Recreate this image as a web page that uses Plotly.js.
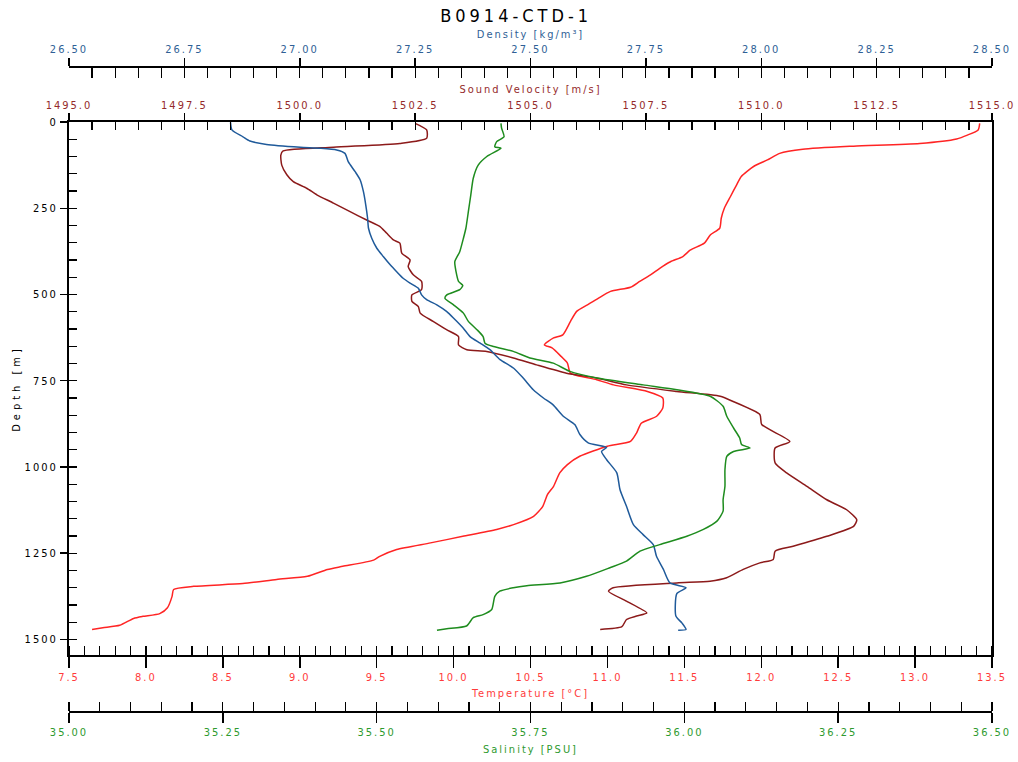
<!DOCTYPE html>
<html><head><meta charset="utf-8">
<script src="https://cdn.plot.ly/plotly-3.0.1.min.js"></script>
<style>
html,body{margin:0;padding:0;background:#fff;}
#chart{width:1018px;height:762px;}
#chart text{letter-spacing:2px;}
#chart .gtitle{letter-spacing:4px;}
#chart .ytitle{letter-spacing:4px;}
</style></head><body><div id="chart"></div>
<script>
// ---- data ----
const tempDepth = [4,23,38,49,62,70,79,91,110,129,158,182,216,250,279,308,327,351,371,390,405,424,443,462,479,491,511,530,549,578,617,626,646,655,680,699,728,747,762,781,800,829,853,873,901,926,940,969,993,1017,1056,1080,1114,1143,1167,1181,1201,1220,1239,1259,1270,1288,1297,1317,1326,1338,1346,1355,1375,1408,1425,1433,1439,1459,1466,1471];
const temperature = [13.42,13.41,13.34,13.27,13.03,12.60,12.27,12.12,12.04,11.95,11.87,11.84,11.80,11.76,11.74,11.73,11.67,11.63,11.54,11.49,11.41,11.34,11.28,11.21,11.15,11.02,10.94,10.87,10.80,10.76,10.71,10.65,10.59,10.64,10.70,10.74,10.76,10.93,11.04,11.26,11.36,11.36,11.32,11.22,11.19,11.15,11.00,10.82,10.74,10.69,10.65,10.61,10.58,10.52,10.39,10.28,10.06,9.85,9.63,9.52,9.48,9.28,9.18,9.05,8.85,8.63,8.31,8.18,8.17,8.14,8.09,7.98,7.92,7.83,7.72,7.65];

const svDepth = [4,23,47,62,73,84,96,125,153,173,192,211,235,260,284,303,322,342,351,380,400,419,443,462,486,501,520,535,554,578,602,622,646,660,665,684,704,728,742,762,781,795,810,848,877,926,945,988,1017,1056,1095,1124,1153,1172,1201,1230,1244,1268,1278,1297,1321,1331,1336,1350,1360,1389,1423,1432,1442,1463,1471];
const soundVelocity = [1502.50,1502.75,1502.75,1502.17,1500.73,1499.64,1499.59,1499.61,1499.72,1499.86,1500.15,1500.37,1500.73,1501.09,1501.45,1501.74,1501.88,1502.03,1502.17,1502.21,1502.39,1502.35,1502.46,1502.64,1502.64,1502.43,1502.43,1502.57,1502.61,1502.89,1503.18,1503.44,1503.44,1503.62,1504.05,1504.63,1505.13,1505.78,1506.43,1507.08,1508.17,1509.11,1509.39,1509.97,1510.01,1510.62,1510.30,1510.30,1510.55,1510.99,1511.42,1511.85,1512.07,1512.00,1511.42,1510.69,1510.30,1510.26,1509.97,1509.61,1509.25,1508.89,1508.17,1506.79,1506.69,1507.08,1507.52,1507.30,1507.08,1506.98,1506.51];

const densDepth = [1,23,43,55,65,73,76,81,91,115,144,168,202,240,279,308,337,366,390,414,434,453,467,482,501,515,530,549,568,597,622,641,660,689,713,742,776,800,820,853,877,906,930,943,955,979,1017,1066,1114,1167,1196,1225,1259,1297,1336,1350,1367,1432,1452,1471,1473];
const density = [26.850,26.853,26.877,26.892,26.928,27.001,27.044,27.080,27.098,27.105,27.120,27.131,27.138,27.143,27.147,27.149,27.156,27.167,27.181,27.196,27.210,27.224,27.239,27.257,27.264,27.275,27.297,27.318,27.333,27.354,27.369,27.391,27.412,27.434,27.463,27.484,27.506,27.528,27.549,27.571,27.596,27.607,27.625,27.665,27.654,27.665,27.687,27.694,27.708,27.723,27.744,27.766,27.773,27.788,27.802,27.837,27.817,27.815,27.828,27.837,27.820];

const salDepth = [4,18,43,57,72,76,100,125,163,211,260,308,337,376,405,434,462,474,486,501,511,530,554,578,602,622,641,651,665,684,699,723,742,762,776,795,824,853,887,916,935,945,955,969,1008,1056,1095,1128,1157,1181,1201,1225,1244,1273,1292,1317,1336,1344,1350,1360,1375,1413,1428,1437,1461,1469,1473];
const salinity = [35.702,35.703,35.707,35.695,35.692,35.702,35.679,35.665,35.657,35.653,35.649,35.645,35.641,35.635,35.627,35.629,35.633,35.640,35.635,35.614,35.611,35.625,35.641,35.649,35.663,35.673,35.676,35.690,35.722,35.749,35.787,35.814,35.858,35.933,35.988,36.042,36.063,36.069,36.080,36.090,36.093,36.107,36.080,36.069,36.066,36.066,36.063,36.063,36.053,36.031,36.004,35.960,35.928,35.906,35.879,35.841,35.798,35.744,35.722,35.700,35.692,35.687,35.673,35.657,35.646,35.614,35.598];

const chartTitle = 'B0914-CTD-1';
const depthTitle = 'Depth [m]';
const tempTitle = 'Temperature [°C]';
const svTitle = 'Sound Velocity [m/s]';
const densTitle = 'Density [kg/m³]';
const salTitle = 'Salinity [PSU]';

// ---- styling ----
const C_TEMP = '#ff2424', C_SV = '#8c1a1a', C_DENS = '#1f5a9a', C_SAL = '#1e8c1e';
const C_TEMP_T = '#ff3b3b', C_SV_T = '#952a2a', C_DENS_T = '#2f5f96', C_SAL_T = '#2e9a2e';
const FONT = '"DejaVu Sans Condensed", "Liberation Sans Narrow", Arial, sans-serif';
const H = 762;
const yBot = (H - 655) / H, yTop = (H - 122) / H;
const posDens = (H - 66.7) / H, posSal = (H - 712) / H;

function lineTrace(x, y, xa, color) {
  return {x: x, y: y, xaxis: xa, yaxis: 'y', type: 'scatter', mode: 'lines',
          line: {color: color, width: 1.5, shape: 'spline', smoothing: 0.6},
          hoverinfo: 'x+y', showlegend: false};
}
const data = [
  lineTrace(density, densDepth, 'x3', C_DENS),
  lineTrace(salinity, salDepth, 'x4', C_SAL),
  lineTrace(soundVelocity, svDepth, 'x2', C_SV),
  lineTrace(temperature, tempDepth, 'x', C_TEMP)
];

const baseX = {showgrid: false, zeroline: false, showline: true, linecolor: '#000', linewidth: 2,
  tickcolor: '#000', tickwidth: 1.5, fixedrange: true};

const layout = {
  width: 1018, height: 762,
  margin: {l: 69, r: 26, t: 0, b: 0},
  paper_bgcolor: '#fff', plot_bgcolor: '#fff',
  font: {family: FONT, size: 11, color: '#000'},
  title: {text: chartTitle, x: 0.507, xanchor: 'center', y: 1 - 16 / H, yanchor: 'middle',
          font: {family: FONT, size: 18, color: '#000'}},
  xaxis: Object.assign({}, baseX, {
    domain: [0, 1], anchor: 'y', side: 'bottom', range: [7.5, 13.5],
    tick0: 7.5, dtick: 0.5, tickformat: '.1f', ticks: 'outside', ticklen: 11,
    minor: {dtick: 0.1, tick0: 7.5, ticks: 'inside', ticklen: 9, tickcolor: '#000', tickwidth: 1.2},
    tickfont: {color: C_TEMP_T, size: 11},
    title: {text: tempTitle, font: {color: C_TEMP_T, size: 11}, standoff: 6}
  }),
  xaxis2: Object.assign({}, baseX, {
    overlaying: 'x', anchor: 'y', side: 'top', range: [1495, 1515],
    tick0: 1495, dtick: 2.5, tickformat: '.1f', ticks: 'outside', ticklen: 7,
    tickfont: {color: C_SV_T, size: 11},
    title: {text: svTitle, font: {color: C_SV_T, size: 11}, standoff: 3}
  }),
  xaxis3: Object.assign({}, baseX, {
    overlaying: 'x', anchor: 'free', position: posDens, side: 'top', range: [26.5, 28.5],
    tick0: 26.5, dtick: 0.25, tickformat: '.2f', ticks: 'outside', ticklen: 8,
    tickfont: {color: C_DENS_T, size: 11},
    title: {text: densTitle, font: {color: C_DENS_T, size: 11}, standoff: 1}
  }),
  xaxis4: Object.assign({}, baseX, {
    overlaying: 'x', anchor: 'free', position: posSal, side: 'bottom', range: [35, 36.5],
    tick0: 35, dtick: 0.25, tickformat: '.2f', ticks: 'outside', ticklen: 10,
    minor: {dtick: 0.05, tick0: 35, ticks: 'inside', ticklen: 9, tickcolor: '#000', tickwidth: 1.2},
    tickfont: {color: C_SAL_T, size: 11},
    title: {text: salTitle, font: {color: C_SAL_T, size: 11}, standoff: 6}
  }),
  // inner tick rows for the top axes (every step, so majors show on both sides)
  xaxis5: {overlaying: 'x', anchor: 'free', position: posDens, side: 'top', range: [26.5, 28.5],
    tick0: 26.5, dtick: 0.05, ticks: 'inside', ticklen: 10, tickcolor: '#000', tickwidth: 1.2,
    showticklabels: false, showline: false, showgrid: false, zeroline: false, fixedrange: true},
  xaxis6: {overlaying: 'x', anchor: 'y', side: 'top', range: [1495, 1515],
    tick0: 1495, dtick: 0.5, ticks: 'inside', ticklen: 8, tickcolor: '#000', tickwidth: 1.2,
    showticklabels: false, showline: false, showgrid: false, zeroline: false, fixedrange: true},
  yaxis: {domain: [yBot, yTop], anchor: 'x', range: [1545, 0], tick0: 0, dtick: 250,
    ticks: 'outside', ticklen: 7, tickcolor: '#000', tickwidth: 1.5,
    showline: true, linecolor: '#000', linewidth: 2, mirror: true,
    showgrid: false, zeroline: false, fixedrange: true,
    tickfont: {color: '#000', size: 11},
    title: {text: depthTitle, font: {color: '#000', size: 11}, standoff: 10}},
  yaxis2: {overlaying: 'y', anchor: 'x', side: 'left', range: [1545, 0], tick0: 0, dtick: 50,
    ticks: 'inside', ticklen: 8, tickcolor: '#000', tickwidth: 1.2,
    showticklabels: false, showline: false, showgrid: false, zeroline: false, fixedrange: true}
};

// invisible anchor points so that the tick-only axes are drawn
data.push({x: [26.5], y: [0], xaxis: 'x5', yaxis: 'y', mode: 'markers', marker: {opacity: 0}, hoverinfo: 'skip', showlegend: false});
data.push({x: [1495], y: [0], xaxis: 'x6', yaxis: 'y2', mode: 'markers', marker: {opacity: 0}, hoverinfo: 'skip', showlegend: false});

Plotly.newPlot('chart', data, layout, {staticPlot: true, displayModeBar: false});
</script></body></html>
